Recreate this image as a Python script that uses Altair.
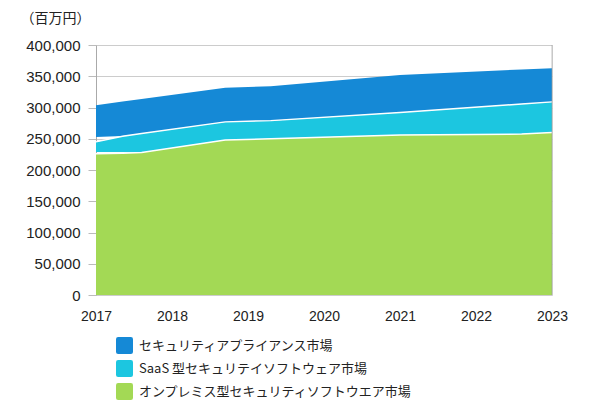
import altair as alt
import pandas as pd

years = [2017, 2017.35, 2017.6, 2018.7, 2019.3, 2021, 2022.6, 2023]
green_top = [226000, 226700, 228000, 248000, 250000, 256000, 257500, 260000]
cyan_bottom = [229000, 228700, 228000, 248000, 250000, 256000, 257500, 260000]
cyan_top = [245000, 254000, 258500, 277000, 279000, 292000, 305500, 309000]
blue_bottom = [253000, 254500, 258500, 277000, 279000, 292000, 305500, 309000]
blue_top = [303700, 309500, 313600, 331700, 334000, 352000, 360800, 363000]

series = [
    "セキュリティアプライアンス市場",
    "SaaS 型セキュリテイソフトウェア市場",
    "オンプレミス型セキュリティソフトウエア市場",
]
colors = ["#1589D6", "#1CC6E0", "#A3D955"]
tick_years = [2017, 2018, 2019, 2020, 2021, 2022, 2023]
y_ticks = [0, 50000, 100000, 150000, 200000, 250000, 300000, 350000, 400000]

rows = []
for i, yr in enumerate(years):
    rows.append({"year": yr, "series": series[0], "top": blue_top[i], "bottom": blue_bottom[i]})
    rows.append({"year": yr, "series": series[1], "top": cyan_top[i], "bottom": cyan_bottom[i]})
    rows.append({"year": yr, "series": series[2], "top": green_top[i], "bottom": 0})
df = pd.DataFrame(rows)

font = "Liberation Sans, Noto Sans CJK JP"

x_axis = alt.Axis(
    values=tick_years, format="d", title=None, ticks=False, grid=False,
    domain=False, labelFontSize=14, labelColor="#222", labelPadding=14,
    labelFont=font, labelFlush=False, labelBound=False, labelOverlap=False,
)
y_axis = alt.Axis(
    values=y_ticks, format=",d", title="（百万円）",
    titleAngle=0, titleAlign="left", titleBaseline="middle", titleX=-76,
    titleY=-27, titleFontSize=14, titleFontWeight="normal", titleColor="#222",
    titleFont="Noto Sans CJK JP", labelFontSize=15, labelColor="#222",
    labelFont=font, tickSize=8, tickColor="#bbb", labelPadding=8,
    labelOverlap=False, labelBound=False, labelFlush=False,
    domainColor="#aaa", gridColor="#ccc",
)
x_scale = alt.Scale(domain=[2017, 2023], nice=False, zero=False)
y_scale = alt.Scale(domain=[0, 400000], nice=False)

rounded = "M-0.75,-1L0.75,-1Q1,-1 1,-0.75L1,0.75Q1,1 0.75,1L-0.75,1Q-1,1 -1,0.75L-1,-0.75Q-1,-1 -0.75,-1Z"

area = alt.Chart(df).mark_area(interpolate="linear", opacity=1).encode(
    x=alt.X("year:Q", scale=x_scale, axis=x_axis),
    y=alt.Y("top:Q", scale=y_scale, axis=y_axis),
    y2="bottom:Q",
    color=alt.Color(
        "series:N",
        scale=alt.Scale(domain=series, range=colors),
        legend=alt.Legend(
            title=None, orient="none", legendX=20, legendY=292, direction="vertical",
            symbolType=rounded, symbolSize=289, symbolStrokeWidth=0, symbolOpacity=1,
            labelFontSize=13, labelColor="#222", labelFont="Noto Sans CJK JP",
            labelLimit=500, rowPadding=6, labelOffset=6,
        ),
    ),
    order=alt.Order("series:N"),
)

lines_df = df[df["series"] != series[0]]
lines = alt.Chart(lines_df).mark_line(color="white", strokeWidth=1.5).encode(
    x=alt.X("year:Q", scale=x_scale, axis=x_axis),
    y=alt.Y("top:Q", scale=y_scale, axis=y_axis),
    detail="series:N",
)

edge_df = pd.DataFrame({"year": [2023], "top": [400000], "bottom": [0]})
edge = alt.Chart(edge_df).mark_rule(color="#999", strokeWidth=1, opacity=0.6).encode(
    x=alt.X("year:Q", scale=x_scale, axis=x_axis),
    y=alt.Y("top:Q", scale=y_scale, axis=y_axis),
    y2="bottom:Q",
)

chart = alt.layer(area, lines, edge).properties(
    width=456,
    height=250,
    autosize=alt.AutoSizeParams(type="none"),
    padding={"left": 88, "top": 37, "right": 20, "bottom": 106},
).configure_view(stroke=None).configure(background="white")

chart.save("out.html", embed_options={"renderer": "svg", "actions": False})
